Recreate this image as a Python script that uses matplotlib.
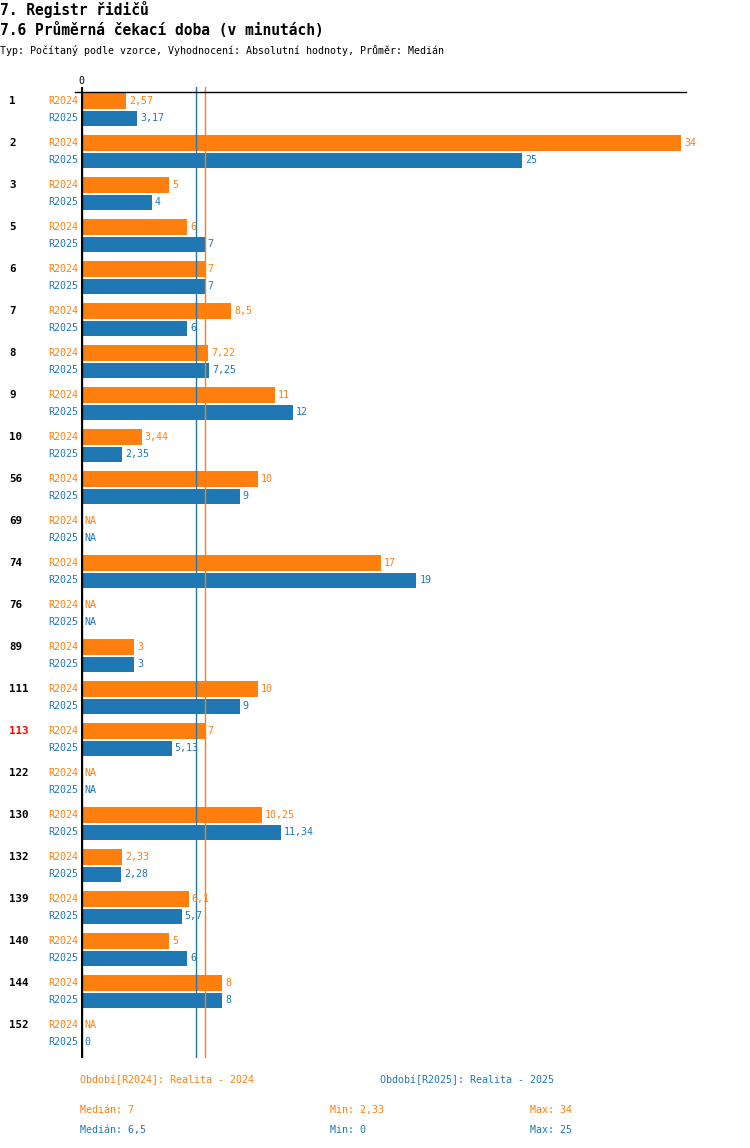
import numpy as np
import matplotlib
matplotlib.use("Agg")
import matplotlib.pyplot as plt

plt.rcParams['font.family'] = ['DejaVu Sans Mono']

groups = ["1", "2", "3", "5", "6", "7", "8", "9", "10", "56", "69", "74", "76",
          "89", "111", "113", "122", "130", "132", "139", "140", "144", "152"]
r2024 = [2.57, 34, 5, 6, 7, 8.5, 7.22, 11, 3.44, 10, None, 17, None,
         3, 10, 7, None, 10.25, 2.33, 6.1, 5, 8, None]
r2025 = [3.17, 25, 4, 7, 7, 6, 7.25, 12, 2.35, 9, None, 19, None,
         3, 9, 5.13, None, 11.34, 2.28, 5.7, 6, 8, 0]
highlight = ["113"]

ORANGE = "#ff7f0e"
BLUE = "#1f77b4"

W, H = 750, 1148
fig = plt.figure(figsize=(W / 100, H / 100), dpi=100)


def fx(px):
    return px / W


def fy(py):
    return 1 - py / H


# axes placed in pixel layout
ax_left, ax_right, ax_top, ax_bottom = 81, 686, 87, 1058
ax = fig.add_axes([fx(ax_left), fy(ax_bottom), fx(ax_right - ax_left),
                   (ax_bottom - ax_top) / H])
px_per_unit = 17.65
ax.set_xlim(0, (ax_right - ax_left) / px_per_unit)
ax.set_ylim(ax_bottom, ax_top)
ax.axis("off")

step, first, gap, bh = 42, 100.8, 17.6, 15.5


def fmt(v):
    return ("%g" % v).replace(".", ",")


pad = 3 / px_per_unit
for i, g in enumerate(groups):
    y24 = first + i * step
    y25 = y24 + gap
    for y, v, c, name in [(y24, r2024[i], ORANGE, "R2024"), (y25, r2025[i], BLUE, "R2025")]:
        fig.text(fx(78), fy(y), name, color=c, fontsize=7.2, ha="right", va="center")
        if v is None:
            ax.text(pad, y, "NA", color=c, fontsize=7.2, va="center")
        else:
            ax.barh(y, v, height=bh, color=c, left=0)
            ax.text(v + pad, y, fmt(v), color=c, fontsize=7.2, va="center")
    fig.text(fx(9), fy(y24), g, fontsize=7.8, fontweight="bold",
             color="red" if g in highlight else "black", va="center")

# median lines
vals24 = [v for v in r2024 if v is not None]
vals25 = [v for v in r2025 if v is not None]
med24 = np.median(vals24)
med25 = np.median(vals25)
ax.axvline(med25, color=BLUE, lw=1)
ax.axvline(med24, color=ORANGE, lw=1)

# axis lines
ax.axvline(0, color="black", lw=2.4)
ax.plot([-6 / px_per_unit, ax.get_xlim()[1]], [92, 92], color="black", lw=1, clip_on=False)
fig.text(fx(81), fy(81), "0", fontsize=7.2, ha="center", va="center")

# header
fig.text(fx(0), fy(9), "7. Registr řidičů", fontsize=10.5, fontweight="bold", va="center")
fig.text(fx(0), fy(30), "7.6 Průměrná čekací doba (v minutách)", fontsize=10.5,
         fontweight="bold", va="center")
fig.text(fx(0), fy(51), "Typ: Počítaný podle vzorce, Vyhodnocení: Absolutní hodnoty, Průměr: Medián",
         fontsize=7.2, va="center")

# footer
fig.text(fx(80), fy(1080), "Období[R2024]: Realita - 2024", color=ORANGE, fontsize=7.2, va="center")
fig.text(fx(380), fy(1080), "Období[R2025]: Realita - 2025", color=BLUE, fontsize=7.2, va="center")
for yy, vals, med, c in [(1110, vals24, med24, ORANGE), (1130, vals25, med25, BLUE)]:
    fig.text(fx(80), fy(yy), "Medián: " + fmt(med), color=c, fontsize=7.2, va="center")
    fig.text(fx(330), fy(yy), "Min: " + fmt(min(vals)), color=c, fontsize=7.2, va="center")
    fig.text(fx(530), fy(yy), "Max: " + fmt(max(vals)), color=c, fontsize=7.2, va="center")

fig.savefig("out.png", dpi=100)
